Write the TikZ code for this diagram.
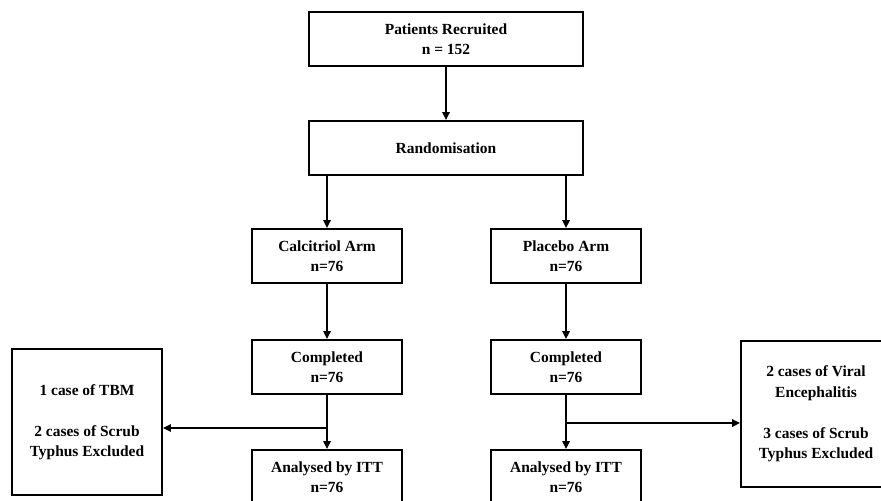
\documentclass[tikz,border=0pt]{standalone}
\usepackage{fontspec}
\setmainfont{Liberation Serif}
\usetikzlibrary{arrows.meta,positioning}

\tikzset{
  box/.style={draw, line width=1.5pt, align=center, inner sep=0pt,
    font=\bfseries\fontsize{13.2}{17.5}\selectfont,
    minimum width=45mm, minimum height=16.2mm},
  widebox/.style={box, minimum width=82.2mm},
  exclbox/.style={box, minimum height=43.8mm},
  flow/.style={line width=1.5pt, -{Triangle[length=2.4mm,width=2.2mm]}},
}

\begin{document}
\begin{tikzpicture}[x=0.3mm,y=-0.3mm]
		\useasboundingbox (0,0) rectangle (881,501);
		\clip (0,0) rectangle (881,501);
		% main column
		\node[widebox] (recruit) at (446,39) {Patients Recruited\\n = 152};
		\node[widebox] (random) at (446,148) {Randomisation};
		% two arms
		\node[box] (calcArm) at (327,256) {Calcitriol Arm\\n=76};
		\node[box] (placArm) at (566,256) {Placebo Arm\\n=76};
		\node[box] (calcDone) at (327,367) {Completed\\n=76};
		\node[box] (placDone) at (566,367) {Completed\\n=76};
		\node[box] (calcITT) at (327,477) {Analysed by ITT\\n=76};
		\node[box] (placITT) at (566,477) {Analysed by ITT\\n=76};
		% exclusions
		\node[exclbox] (calcExcl) at (87,422) {1 case of TBM\\[17.5pt]2 cases of Scrub\\Typhus Excluded};
		\node[exclbox] (placExcl) at (816,414) {2 cases of Viral\\Encephalitis\\[17.5pt]3 cases of Scrub\\Typhus Excluded};
		\coordinate (calcSplit) at (327,428);
		\coordinate (placSplit) at (566,423);
		
		\draw[flow] (recruit) -- (random);
		\draw[flow] (random.south -| calcArm.north) -- (calcArm);
		\draw[flow] (random.south -| placArm.north) -- (placArm);
		\draw[flow] (calcArm) -- (calcDone);
		\draw[flow] (placArm) -- (placDone);
		\draw[flow] (calcDone) -- (calcITT);
		\draw[flow] (placDone) -- (placITT);
		\draw[flow] (calcSplit) -- (calcSplit -| calcExcl.east);
		\draw[flow] (placSplit) -- (placSplit -| placExcl.west);
	\end{tikzpicture}
\end{document}
